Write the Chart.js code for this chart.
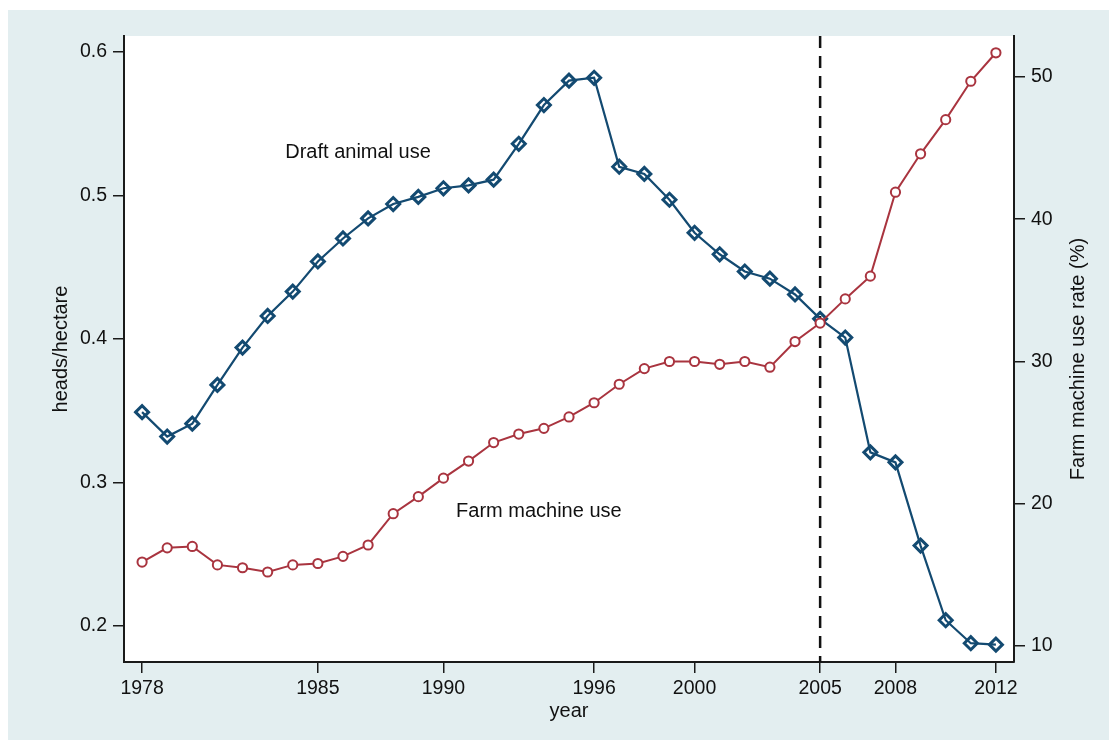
<!DOCTYPE html>
<html>
<head>
<meta charset="utf-8">
<script src="https://cdn.jsdelivr.net/npm/chart.js@4.4.1/dist/chart.umd.min.js"></script>
<style>
  html, body { margin: 0; padding: 0; background: #fff; }
  #frame { position: absolute; left: 8px; top: 10px; width: 1101px; height: 730px; background: #e3eef0; }
  canvas { display: block; }
</style>
</head>
<body>
<div id="frame"><canvas id="chart" width="1101" height="730"></canvas></div>
<script>
const years = [1978, 1979, 1980, 1981, 1982, 1983, 1984, 1985, 1986, 1987,
  1988, 1989, 1990, 1991, 1992, 1993, 1994, 1995, 1996, 1997,
  1998, 1999, 2000, 2001, 2002, 2003, 2004, 2005, 2006, 2007,
  2008, 2009, 2010, 2011, 2012];

// heads/hectare (left axis)
const draftAnimal = [0.349, 0.332, 0.341, 0.368, 0.394, 0.416, 0.433, 0.454, 0.470, 0.484,
  0.494, 0.499, 0.505, 0.507, 0.511, 0.536, 0.563, 0.580, 0.582, 0.520,
  0.515, 0.497, 0.474, 0.459, 0.447, 0.442, 0.431, 0.414, 0.401, 0.321,
  0.314, 0.256, 0.204, 0.188, 0.187];

// farm machine use rate % (right axis)
const farmMachine = [15.9, 16.9, 17.0, 15.7, 15.5, 15.2, 15.7, 15.8, 16.3, 17.1,
  19.3, 20.5, 21.8, 23.0, 24.3, 24.9, 25.3, 26.1, 27.1, 28.4,
  29.5, 30.0, 30.0, 29.8, 30.0, 29.6, 31.4, 32.7, 34.4, 36.0,
  41.9, 44.6, 47.0, 49.7, 51.7];

const xTicks = [1978, 1985, 1990, 1996, 2000, 2005, 2008, 2012];
const leftTicks = [0.2, 0.3, 0.4, 0.5, 0.6];
const rightTicks = [10, 20, 30, 40, 50];
const policyYear = 2005;

const BLUE = '#134a71';
const RED = '#a9343f';
const INK = '#1a1a1a';
const FONT = 'Liberation Sans, Arial, sans-serif';

const plotBackground = {
  id: 'plotBackground',
  beforeDraw(chart) {
    const { ctx, chartArea: a } = chart;
    ctx.save();
    ctx.fillStyle = '#ffffff';
    ctx.fillRect(a.left, a.top, a.right - a.left, a.bottom - a.top);
    ctx.restore();
  }
};

const policyLine = {
  id: 'policyLine',
  beforeDatasetsDraw(chart) {
    const { ctx, chartArea: a, scales } = chart;
    const x = scales.x.getPixelForValue(policyYear);
    ctx.save();
    ctx.strokeStyle = '#111';
    ctx.lineWidth = 2.5;
    ctx.setLineDash([12, 8]);
    ctx.beginPath();
    ctx.moveTo(x, a.top);
    ctx.lineTo(x, a.bottom);
    ctx.stroke();
    ctx.restore();
  }
};

const seriesLabels = {
  id: 'seriesLabels',
  afterDatasetsDraw(chart) {
    const { ctx, scales } = chart;
    ctx.save();
    ctx.fillStyle = '#111';
    ctx.font = '20px ' + FONT;
    ctx.textAlign = 'center';
    ctx.textBaseline = 'middle';
    ctx.fillText('Draft animal use', scales.x.getPixelForValue(1986.6), scales.y.getPixelForValue(0.5296));
    ctx.fillText('Farm machine use', scales.x.getPixelForValue(1993.8), scales.y2.getPixelForValue(19.44));
    ctx.restore();
  }
};

// right axis title reads bottom-to-top like the left one
const rightTitle = {
  id: 'rightTitle',
  afterDraw(chart) {
    const { ctx, chartArea: a, scales } = chart;
    ctx.save();
    ctx.translate(scales.y2.right - 31, (a.top + a.bottom) / 2 + 10);
    ctx.rotate(-Math.PI / 2);
    ctx.fillStyle = '#111';
    ctx.font = '20px ' + FONT;
    ctx.textAlign = 'center';
    ctx.textBaseline = 'middle';
    ctx.fillText('Farm machine use rate (%)', 0, 0);
    ctx.restore();
  }
};

const axisGrid = { drawOnChartArea: false, drawTicks: true, tickLength: 11, color: INK, lineWidth: 1.5 };
const axisBorder = { display: true, color: INK, width: 2 };
const tickFont = { family: FONT, size: 19.5 };

new Chart(document.getElementById('chart'), {
  type: 'line',
  data: {
    datasets: [
      {
        label: 'Draft animal use',
        data: years.map((yr, i) => ({ x: yr, y: draftAnimal[i] })),
        yAxisID: 'y',
        order: 2,
        borderColor: BLUE,
        borderWidth: 2.2,
        pointStyle: 'rectRot',
        pointRadius: 6.5,
        pointBorderWidth: 3,
        pointBorderColor: BLUE,
        pointBackgroundColor: 'rgba(0,0,0,0)',
        tension: 0
      },
      {
        label: 'Farm machine use',
        data: years.map((yr, i) => ({ x: yr, y: farmMachine[i] })),
        yAxisID: 'y2',
        order: 1,
        borderColor: RED,
        borderWidth: 2,
        pointStyle: 'circle',
        pointRadius: 4.6,
        pointBorderWidth: 2,
        pointBorderColor: RED,
        pointBackgroundColor: '#ffffff',
        tension: 0
      }
    ]
  },
  options: {
    responsive: false,
    animation: false,
    devicePixelRatio: 1,
    layout: { padding: { top: 26, left: 0, right: 0, bottom: 0 } },
    plugins: {
      legend: { display: false },
      tooltip: { enabled: false }
    },
    scales: {
      x: {
        type: 'linear',
        min: 1977.28,
        max: 2012.72,
        grid: axisGrid,
        border: axisBorder,
        afterBuildTicks: s => { s.ticks = xTicks.map(v => ({ value: v })); },
        afterFit: s => { s.height = 78; },
        ticks: { color: '#111', font: tickFont, padding: 4, maxRotation: 0, callback: v => String(v) },
        title: { display: true, text: 'year', color: '#111', font: { family: FONT, size: 20 }, padding: { top: 0, bottom: 17 } }
      },
      y: {
        position: 'left',
        min: 0.1749,
        max: 0.6111,
        grid: axisGrid,
        border: axisBorder,
        afterBuildTicks: s => { s.ticks = leftTicks.map(v => ({ value: v })); },
        afterFit: s => { s.width = 116; },
        ticks: { color: '#111', font: tickFont, padding: 6, callback: v => v.toFixed(1) },
        title: { display: true, text: 'heads/hectare', color: '#111', font: { family: FONT, size: 20 }, padding: { top: 41, bottom: 0 } }
      },
      y2: {
        position: 'right',
        min: 8.875,
        max: 52.88,
        grid: axisGrid,
        border: axisBorder,
        afterBuildTicks: s => { s.ticks = rightTicks.map(v => ({ value: v })); },
        afterFit: s => { s.width = 95; },
        ticks: { color: '#111', font: tickFont, padding: 6, callback: v => String(v) }
      }
    }
  },
  plugins: [plotBackground, policyLine, seriesLabels, rightTitle]
});
</script>
</body>
</html>
